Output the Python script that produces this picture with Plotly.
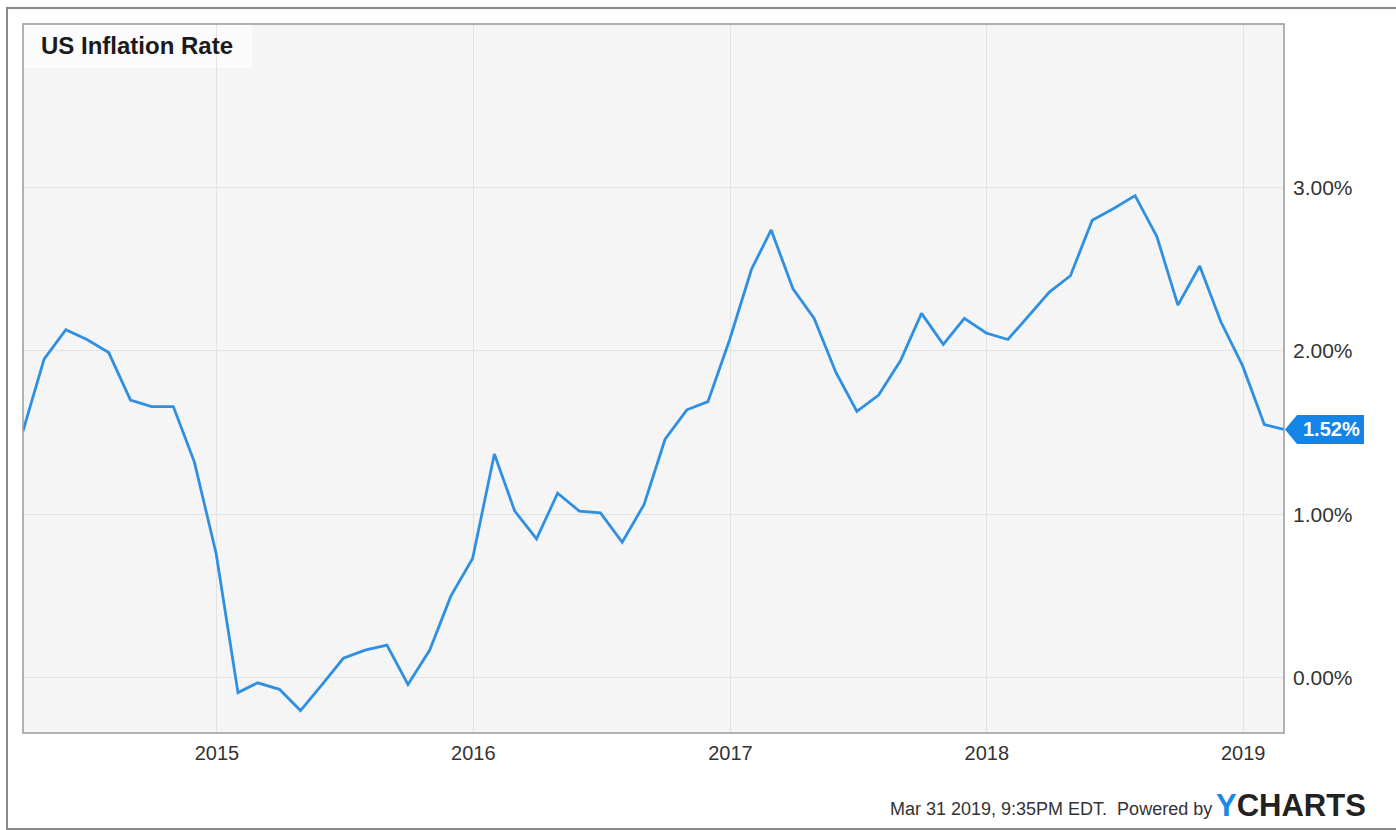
import pandas as pd
import plotly.graph_objects as go

# Monthly year-over-year CPI change (%), month-end dates Mar 2014 .. Feb 2019
dates = pd.date_range("2014-03-31", "2019-02-28", freq="ME")
inflation = [
    1.51, 1.95, 2.13, 2.07, 1.99, 1.70, 1.66, 1.66, 1.32, 0.76,            # 2014 Mar-Dec
    -0.09, -0.03, -0.07, -0.20, -0.04, 0.12, 0.17, 0.20, -0.04, 0.17, 0.50, 0.73,  # 2015
    1.37, 1.02, 0.85, 1.13, 1.02, 1.01, 0.83, 1.06, 1.46, 1.64, 1.69, 2.07,      # 2016
    2.50, 2.74, 2.38, 2.20, 1.87, 1.63, 1.73, 1.94, 2.23, 2.04, 2.20, 2.11,      # 2017
    2.07, 2.21, 2.36, 2.46, 2.80, 2.87, 2.95, 2.70, 2.28, 2.52, 2.18, 1.91,      # 2018
    1.55, 1.52,                                                                  # 2019
]
y_ticks = [0, 1, 2, 3]
y_tick_text = ["0.00%", "1.00%", "2.00%", "3.00%"]
x_ticks = ["2015-01-01", "2016-01-01", "2017-01-01", "2018-01-01", "2019-01-01"]
x_tick_text = ["2015", "2016", "2017", "2018", "2019"]

W, H = 1396, 830
ML, MR, MT, MB = 23, 112, 24, 97
PW, PH = W - ML - MR, H - MT - MB
Y_MIN, Y_MAX = -0.337, 4.0

def px_x(p):
    return (p - ML) / PW

def px_y(p):
    return (H - MB - p) / PH

line_blue = "#2e8fe3"
tag_blue = "#1484e6"
FONT = "Arial, Liberation Sans"

fig = go.Figure()
fig.add_trace(go.Scatter(
    x=dates, y=inflation, mode="lines",
    line=dict(color=line_blue, width=2.8),
    hoverinfo="x+y", showlegend=False,
))

# last-value tag pointing at the final point
last_val = inflation[-1]
yc = (last_val - Y_MIN) / (Y_MAX - Y_MIN)
half = 14.5 / PH
tip = px_x(1285)
neck = px_x(1297)
right = px_x(1364)
shapes = [
    dict(type="path", xref="paper", yref="paper",
         path=f"M {tip} {yc} L {neck} {yc+half} L {right} {yc+half} L {right} {yc-half} L {neck} {yc-half} Z",
         fillcolor=tag_blue, line=dict(width=0), layer="above"),
    # title box
    dict(type="rect", xref="paper", yref="paper",
         x0=0, x1=px_x(252), y0=px_y(68), y1=1,
         fillcolor="#fbfbfb", line=dict(width=0), layer="below"),
    # outer frame
    dict(type="rect", xref="paper", yref="paper",
         x0=px_x(7), x1=px_x(1420), y0=px_y(829), y1=px_y(8),
         fillcolor="rgba(0,0,0,0)", line=dict(color="#8a8a8a", width=2)),
    # plot border
    dict(type="rect", xref="paper", yref="paper",
         x0=0, x1=1, y0=0, y1=1,
         fillcolor="rgba(0,0,0,0)", line=dict(color="#999999", width=1.5)),
]

annotations = [
    dict(xref="paper", yref="paper", x=(neck + right) / 2 + 1 / PW, y=yc,
         text=f"<b>{last_val:.2f}%</b>", showarrow=False,
         font=dict(family=FONT, size=20, color="white"),
         xanchor="center", yanchor="middle"),
    dict(xref="paper", yref="paper", x=px_x(39), y=px_y(46),
         text="<b>US Inflation Rate</b>", showarrow=False,
         font=dict(family=FONT, size=24, color="#1a1a1a"),
         xanchor="left", yanchor="middle"),
    dict(xref="paper", yref="paper", x=px_x(1214), y=px_y(809),
         text="Mar 31 2019, 9:35PM EDT.  Powered by", showarrow=False,
         font=dict(family=FONT, size=18, color="#333333"),
         xanchor="right", yanchor="middle"),
    dict(xref="paper", yref="paper", x=px_x(1214), y=px_y(805),
         text="<b><span style='color:#1a8ae6'>Y</span>CHARTS</b>", showarrow=False,
         font=dict(family=FONT, size=31, color="#222222"),
         xanchor="left", yanchor="middle"),
]

fig.update_layout(
    width=W, height=H,
    margin=dict(l=ML, r=MR, t=MT, b=MB, pad=0),
    paper_bgcolor="white",
    plot_bgcolor="#f5f5f5",
    font=dict(family=FONT, color="#333333"),
    shapes=shapes,
    annotations=annotations,
    xaxis=dict(
        type="date",
        range=["2014-03-31", "2019-02-28"],
        tickvals=x_ticks, ticktext=x_tick_text,
        showgrid=True, gridcolor="#e3e3e3", gridwidth=1,
        zeroline=False, showline=False, ticks="",
        ticklabelstandoff=6,
        tickfont=dict(size=20, color="#333333"),
    ),
    yaxis=dict(
        range=[Y_MIN, Y_MAX], side="right",
        tickvals=y_ticks, ticktext=y_tick_text,
        showgrid=True, gridcolor="#e3e3e3", gridwidth=1,
        zeroline=False, showline=False, ticks="",
        ticklabelstandoff=8,
        tickfont=dict(size=21, color="#333333"),
    ),
)

fig.write_html("out.html")
